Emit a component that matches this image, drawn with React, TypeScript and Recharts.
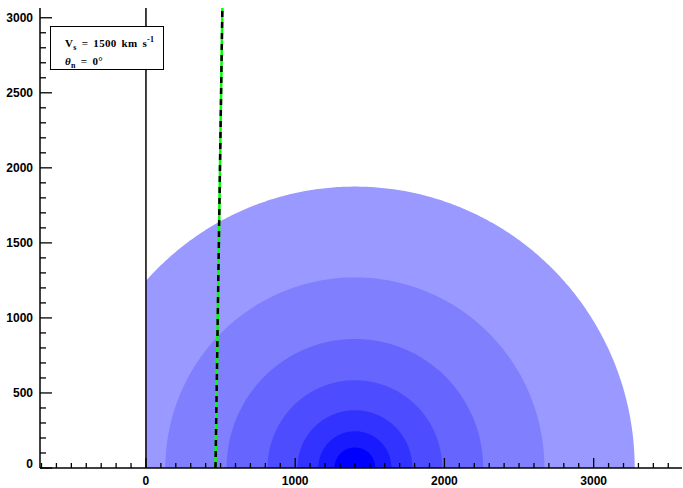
import React from 'react';
import { ComposedChart, Area, XAxis, YAxis, ReferenceLine } from 'recharts';

// ---- data ----
const centerX = 1400;
const radii = [1875, 1270, 860, 585, 385, 245, 137];
const fills = ['#9999ff', '#8080ff', '#6666ff', '#4d4dff', '#3333ff', '#1a1aff', '#0000ff'];
const xDomain = [-710, 3592];
const yDomain = [0, 3065];
const xTicks = [
  -700, -600, -500, -400, -300, -200, -100, 0, 100, 200, 300, 400, 500, 600, 700, 800, 900,
  1000, 1100, 1200, 1300, 1400, 1500, 1600, 1700, 1800, 1900, 2000, 2100, 2200, 2300, 2400,
  2500, 2600, 2700, 2800, 2900, 3000, 3100, 3200, 3300, 3400, 3500,
];
const yTicks = [
  0, 100, 200, 300, 400, 500, 600, 700, 800, 900, 1000, 1100, 1200, 1300, 1400, 1500, 1600,
  1700, 1800, 1900, 2000, 2100, 2200, 2300, 2400, 2500, 2600, 2700, 2800, 2900, 3000,
];
const xLabels = [0, 1000, 2000, 3000];
const yLabels = [0, 500, 1000, 1500, 2000, 2500, 3000];
const shockLine = [
  { x: 466, y: 0 },
  { x: 512, y: 3065 },
];
const shockSpeed = 1500;
const thetaN = 0;

// ---- build semicircle outlines from centre + radii ----
const rowMap = new Map<number, any>();
const addPoint = (key: string, x: number, y: number) => {
  const rx = Math.round(x * 100) / 100;
  const row = rowMap.get(rx) || { x: rx };
  row[key] = Math.max(0, y);
  rowMap.set(rx, row);
};
radii.forEach((r, i) => {
  const key = 'c' + i;
  const steps = 360;
  if (centerX - r < 0) addPoint(key, 0, Math.sqrt(r * r - centerX * centerX));
  for (let k = 0; k <= steps; k++) {
    const th = Math.PI * (1 - k / steps);
    const x = centerX + r * Math.cos(th);
    const y = r * Math.sin(th);
    if (x < 0) continue;
    addPoint(key, x, y);
  }
});
const rows = Array.from(rowMap.values()).sort((a, b) => a.x - b.x);

const labelFont = {
  fontFamily: 'Liberation Sans, Arial, sans-serif',
  fontWeight: 700,
  fontSize: 12,
  fill: '#000',
};

const BottomTick = (props: any) => {
  const { x, y, payload } = props;
  const v = payload.value;
  const major = xLabels.includes(v);
  return (
    <g>
      <line x1={x} x2={x} y1={y} y2={y - (major ? 10 : 5)} stroke="#000" strokeWidth={1.3} />
      {major && (
        <text x={x} y={y + 17} textAnchor="middle" {...labelFont}>
          {v}
        </text>
      )}
    </g>
  );
};
const TopTick = (props: any) => {
  const { x, y, payload } = props;
  const major = xLabels.includes(payload.value);
  return <line x1={x} x2={x} y1={y} y2={y + (major ? 10 : 5)} stroke="#000" strokeWidth={1.3} />;
};
const LeftTick = (props: any) => {
  const { x, y, payload } = props;
  const v = payload.value;
  const major = yLabels.includes(v);
  return (
    <g>
      <line x1={x} x2={x + (major ? 12 : 6)} y1={y} y2={y} stroke="#000" strokeWidth={1.3} />
      {major && (
        <text x={x - 7} y={v === 0 ? y : y + 4.5} textAnchor="end" {...labelFont}>
          {v}
        </text>
      )}
    </g>
  );
};
const RightTick = (props: any) => {
  const { x, y, payload } = props;
  const major = yLabels.includes(payload.value);
  return <line x1={x} x2={x - (major ? 12 : 6)} y1={y} y2={y} stroke="#000" strokeWidth={1.3} />;
};

const subStyle: React.CSSProperties = {
  fontSize: 8,
  position: 'relative',
  top: 3,
  lineHeight: 0,
  verticalAlign: 'baseline',
};
const supStyle: React.CSSProperties = {
  fontSize: 8,
  position: 'relative',
  top: -5,
  lineHeight: 0,
  verticalAlign: 'baseline',
};

export default function App() {
  return (
    <div style={{ position: 'absolute', left: 0, top: 0, width: 683, height: 488, background: '#fff' }}>
      <ComposedChart
        width={683}
        height={488}
        data={rows}
        margin={{ top: 8, right: 1, bottom: 0, left: 0 }}
      >
        <XAxis
          dataKey="x"
          type="number"
          domain={xDomain}
          ticks={xTicks}
          interval={0}
          allowDataOverflow
          height={20}
          tickSize={0}
          tickMargin={0}
          tickLine={false}
          axisLine={{ stroke: '#000', strokeWidth: 1.5 }}
          tick={BottomTick}
        />
        <XAxis
          xAxisId="top"
          orientation="top"
          type="number"
          domain={xDomain}
          ticks={xTicks}
          interval={0}
          allowDataOverflow
          height={0}
          tickSize={0}
          tickMargin={0}
          tickLine={false}
          axisLine={{ stroke: '#000', strokeWidth: 1.5 }}
          tick={TopTick}
        />
        <YAxis
          type="number"
          domain={yDomain}
          ticks={yTicks}
          interval={0}
          allowDataOverflow
          width={40}
          tickSize={0}
          tickMargin={0}
          tickLine={false}
          axisLine={{ stroke: '#000', strokeWidth: 1.5 }}
          tick={LeftTick}
        />
        <YAxis
          yAxisId="right"
          orientation="right"
          type="number"
          domain={yDomain}
          ticks={yTicks}
          interval={0}
          allowDataOverflow
          width={0}
          tickSize={0}
          tickMargin={0}
          tickLine={false}
          axisLine={{ stroke: '#000', strokeWidth: 1.5 }}
          tick={RightTick}
        />
        {radii.map((r, i) => (
          <Area
            key={'c' + i}
            dataKey={'c' + i}
            type="linear"
            connectNulls
            baseValue={0}
            stroke="none"
            fill={fills[i]}
            fillOpacity={1}
            isAnimationActive={false}
            dot={false}
            activeDot={false}
          />
        ))}
        <ReferenceLine x={0} stroke="#000" strokeWidth={1.5} />
        <ReferenceLine
          segment={shockLine}
          stroke="#00ff00"
          strokeWidth={2.5}
          ifOverflow="visible"
        />
        <ReferenceLine
          segment={shockLine}
          stroke="#000"
          strokeWidth={2.5}
          strokeDasharray="6 5"
          ifOverflow="visible"
        />
      </ComposedChart>
      <div
        style={{
          position: 'absolute',
          left: 50,
          top: 26,
          width: 114,
          height: 44,
          boxSizing: 'border-box',
          border: '1.5px solid #000',
          background: '#fff',
          fontFamily: 'Liberation Serif, serif',
          fontWeight: 700,
          fontSize: 11,
          lineHeight: '18px',
          paddingLeft: 14,
          paddingTop: 7,
          whiteSpace: 'nowrap',
          letterSpacing: 0.3,
          wordSpacing: 2,
        }}
      >
        <div style={{ height: 18 }}>
          V<span style={subStyle}>s</span> = {shockSpeed} km s<span style={supStyle}>-1</span>
        </div>
        <div style={{ height: 18 }}>
          <i>θ</i>
          <span style={subStyle}>n</span> = {thetaN}°
        </div>
      </div>
    </div>
  );
}
